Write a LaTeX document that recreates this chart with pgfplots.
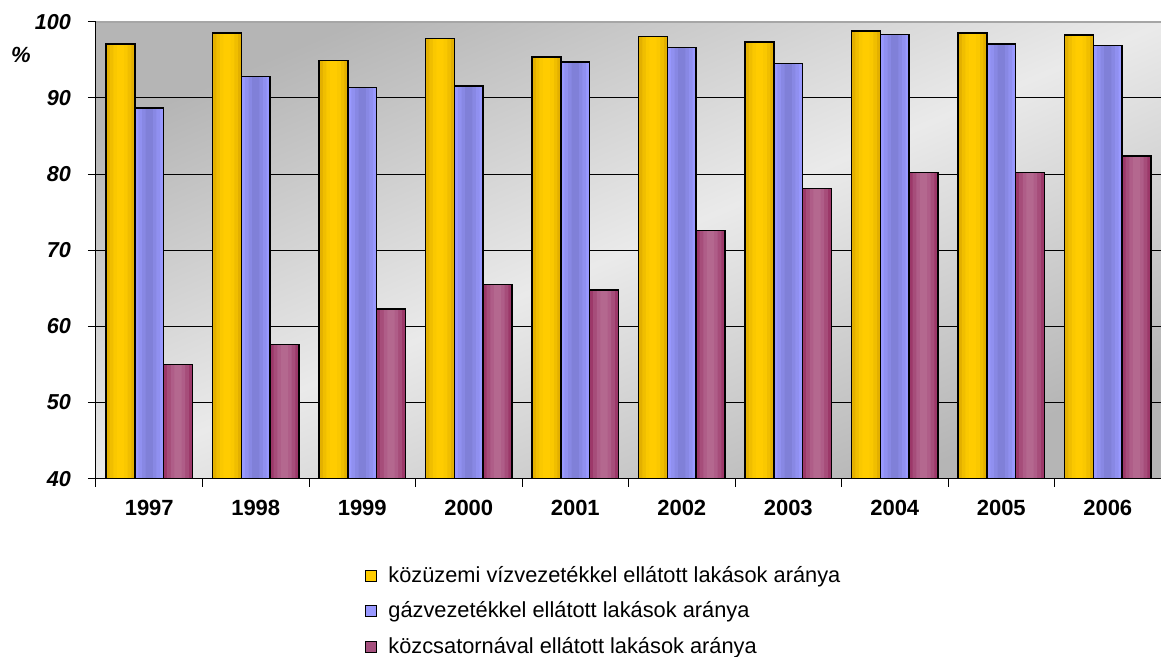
\documentclass[border=0pt]{standalone}
\usepackage{pgfplots}
\pgfplotsset{compat=1.18}
\usepackage{pgfplotstable}
\usepackage{fontspec}
\setmainfont{Liberation Sans}

\definecolor{yelA}{HTML}{E3B000}
\definecolor{yelB}{HTML}{F0BE00}
\definecolor{yelC}{HTML}{FAC800}
\definecolor{yelL}{HTML}{FFCC00}
\definecolor{bluL}{HTML}{9999FF}
\definecolor{bluB}{HTML}{9090F0}
\definecolor{bluC}{HTML}{8888E4}
\definecolor{bluD}{HTML}{8080D8}
\definecolor{marA}{HTML}{9C3869}
\definecolor{marB}{HTML}{A64D7A}
\definecolor{marC}{HTML}{AF5D88}
\definecolor{marL}{HTML}{B4688F}
\definecolor{marLeg}{HTML}{A5507E}
\definecolor{bgD}{HTML}{B5B5B5}
\definecolor{bgL}{HTML}{EAEAEA}

% x: 0 = 1997 ... 9 = 2006
\pgfplotstableread{
x viz gaz csat
0 97.1  88.7  55.0
1 98.5  92.8  57.6
2 94.9  91.35 62.3
3 97.8  91.6  65.5
4 95.4  94.7  64.8
5 98.1  96.6  72.6
6 97.35 94.5  78.1
7 98.8  98.3  80.2
8 98.5  97.1  80.2
9 98.25 96.9  82.4
}\datatable

% one shaded layer of a bar: shift, width, colour
\pgfplotsset{
    lay/.style n args={3}{forget plot, ybar, bar shift=#1, bar width=#2, draw=none, fill=#3},
    edge/.style={forget plot, ybar, bar shift=#1, bar width=14.35pt, draw=black, line width=0.75pt, fill=none},
}

\begin{document}
\begin{tikzpicture}
\begin{axis}[
    name=ax,
    at={(0,0)}, anchor=south west,
    width=532.5pt, height=228.4pt, scale only axis,
    xmin=-0.5, xmax=9.5, ymin=40, ymax=100,
    axis x line*=bottom, axis y line*=left,
    axis line style={black, line width=0.5pt},
    axis background/.style={shade, top color=bgD, bottom color=bgD, middle color=bgL, shading angle=23},
    xtick={-0.5,0.5,...,9.5},
    xticklabels={},
    extra x ticks={0,...,9},
    extra x tick labels={1997,1998,1999,2000,2001,2002,2003,2004,2005,2006},
    extra x tick style={major tick length=0pt},
    tick align=outside,
    major tick length=4pt,
    tick style={black, line width=0.5pt},
    ytick={40,50,...,90},
    extra y ticks={100},
    extra y tick style={grid style={draw=gray!70, line width=1pt}},
    ymajorgrids,
    grid style={black, line width=0.5pt},
    /pgf/number format/assume math mode=true,
    yticklabel style={font=\fontsize{10.8}{12}\selectfont\bfseries\itshape, xshift=-5pt},
    xticklabel style={font=\fontsize{11}{12}\selectfont\bfseries, yshift=-7pt},
    legend style={at={(rel axis cs:0.2526,-0.191)}, anchor=north west,
        draw=none, fill=none, inner sep=0pt, row sep=8.2pt, column sep=5.5pt,
        font=\fontsize{10.9}{12}\selectfont, nodes={inner sep=0pt}},
    legend cell align=left,
    legend image code/.code={\draw[#1, draw=black, line width=0.5pt] (0pt,-2.75pt) rectangle (5.5pt,2.75pt);},
]
% közüzemi víz
\addplot[lay={-14.35pt}{14.35pt}{yelA}] table[x=x, y=viz] {\datatable};
\addplot[lay={-14.35pt}{10.8pt}{yelB}] table[x=x, y=viz] {\datatable};
\addplot[lay={-14.35pt}{7.2pt}{yelC}] table[x=x, y=viz] {\datatable};
\addplot[lay={-14.35pt}{3.6pt}{yelL}] table[x=x, y=viz] {\datatable};
\addplot[edge={-14.35pt}] table[x=x, y=viz] {\datatable};
% gáz
\addplot[lay={0pt}{14.35pt}{bluL}] table[x=x, y=gaz] {\datatable};
\addplot[lay={0pt}{10.8pt}{bluB}] table[x=x, y=gaz] {\datatable};
\addplot[lay={0pt}{7.2pt}{bluC}] table[x=x, y=gaz] {\datatable};
\addplot[lay={0pt}{3.6pt}{bluD}] table[x=x, y=gaz] {\datatable};
\addplot[edge={0pt}] table[x=x, y=gaz] {\datatable};
% csatorna
\addplot[lay={14.35pt}{14.35pt}{marA}] table[x=x, y=csat] {\datatable};
\addplot[lay={14.35pt}{10.8pt}{marB}] table[x=x, y=csat] {\datatable};
\addplot[lay={14.35pt}{7.2pt}{marC}] table[x=x, y=csat] {\datatable};
\addplot[lay={14.35pt}{3.6pt}{marL}] table[x=x, y=csat] {\datatable};
\addplot[edge={14.35pt}] table[x=x, y=csat] {\datatable};

\addlegendimage{fill=yelL}
\addlegendentry{közüzemi vízvezetékkel ellátott lakások aránya}
\addlegendimage{fill=bluL}
\addlegendentry{gázvezetékkel ellátott lakások aránya}
\addlegendimage{fill=marLeg}
\addlegendentry{közcsatornával ellátott lakások aránya}
\end{axis}
\node[font=\fontsize{11}{12}\selectfont\bfseries\itshape] at ([xshift=-37.5pt, yshift=-16.6pt]ax.north west) {\%};
\pgfresetboundingbox
\useasboundingbox (-48pt,-89.2pt) rectangle (532.5pt,239.3pt);
\end{tikzpicture}
\end{document}
